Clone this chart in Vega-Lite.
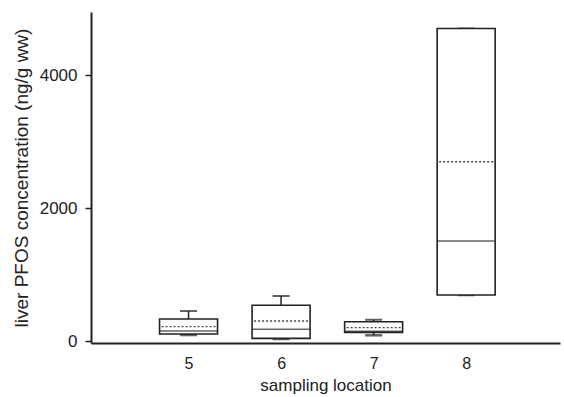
{
  "$schema": "https://vega.github.io/schema/vega-lite/v6.json",
  "autosize": "none",
  "padding": {"left": 91, "top": 12, "right": 4, "bottom": 54},
  "width": 469,
  "height": 331,
  "background": "white",
  "config": {
    "view": {"stroke": null},
    "font": "Liberation Sans",
    "axis": {"grid": false, "domainColor": "#222", "domainWidth": 2, "tickColor": "#222", "labelColor": "#222", "titleColor": "#222", "labelFont": "Liberation Sans", "titleFont": "Liberation Sans", "titleFontWeight": "normal"}
  },
  "data": {
    "values": [
      {"loc": 5, "lo": 90, "q1": 105, "median": 150, "mean": 215, "q3": 331, "hi": 451},
      {"loc": 6, "lo": 30, "q1": 40, "median": 176, "mean": 301, "q3": 537, "hi": 677},
      {"loc": 7, "lo": 86, "q1": 130, "median": 146, "mean": 200, "q3": 290, "hi": 320},
      {"loc": 8, "lo": 692, "q1": 692, "median": 1504, "mean": 2697, "q3": 4702, "hi": 4702}
    ]
  },
  "encoding": {
    "x": {
      "field": "loc", "type": "quantitative",
      "scale": {"domain": [4, 8.96], "nice": false, "zero": false},
      "axis": {"values": [5, 6, 7, 8], "format": "d", "ticks": false, "labelFontSize": 16, "labelPadding": 12, "title": "sampling location", "titleFontSize": 17, "titlePadding": 6}
    }
  },
  "layer": [
    {
      "mark": {"type": "rule", "color": "#222", "strokeWidth": 1.5},
      "encoding": {
        "y": {"field": "lo", "type": "quantitative",
          "scale": {"domain": [-30, 4950], "nice": false, "zero": false},
          "axis": {"values": [0, 2000, 4000], "format": "d", "tickSize": 6, "tickWidth": 1.5, "labelFontSize": 17, "labelPadding": 8, "title": "liver PFOS concentration (ng/g ww)", "titleFontSize": 19, "titlePadding": 8}},
        "y2": {"field": "hi"}
      }
    },
    {
      "mark": {"type": "tick", "orient": "horizontal", "size": 17, "thickness": 2, "color": "#222"},
      "encoding": {"y": {"field": "hi", "type": "quantitative"}}
    },
    {
      "mark": {"type": "tick", "orient": "horizontal", "size": 17, "thickness": 2.5, "color": "#222"},
      "encoding": {"y": {"field": "lo", "type": "quantitative"}}
    },
    {
      "mark": {"type": "bar", "width": 58, "fill": "white", "stroke": "#222", "strokeWidth": 1.6},
      "encoding": {
        "y": {"field": "q1", "type": "quantitative"},
        "y2": {"field": "q3"}
      }
    },
    {
      "mark": {"type": "tick", "orient": "horizontal", "size": 57, "thickness": 1.6, "color": "#222"},
      "encoding": {"y": {"field": "median", "type": "quantitative"}}
    },
    {
      "mark": {"type": "rule", "color": "#444", "strokeWidth": 1.3, "strokeDash": [2, 2], "xOffset": -27, "x2Offset": 27},
      "encoding": {
        "y": {"field": "mean", "type": "quantitative"},
        "x2": {"field": "loc"}
      }
    }
  ]
}
